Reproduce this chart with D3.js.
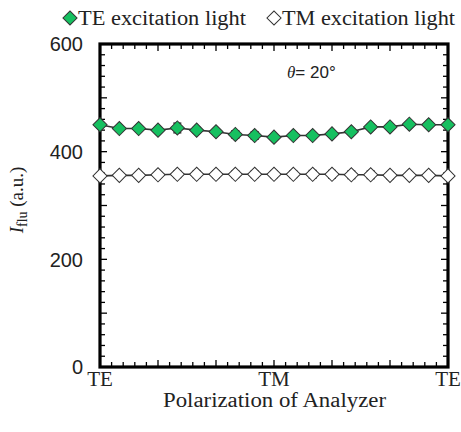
<!DOCTYPE html>
<html>
<head>
<meta charset="utf-8">
<script src="https://cdn.jsdelivr.net/npm/d3@7"></script>
<style>
  body { margin: 0; background: #fff; }
  svg { display: block; }
</style>
</head>
<body>
<div id="chart"></div>
<script>
// analyzer angle (deg), TE -> TM -> TE
const angles = [0, 10, 20, 30, 40, 50, 60, 70, 80, 90, 100, 110, 120, 130, 140, 150, 160, 170, 180];
const teValues = [450, 443, 443, 440, 444, 440, 437, 432, 430, 427, 430, 430, 433, 437, 446, 446, 451, 450, 450];
const teErrors = [3, 3, 3, 3, 9, 5, 4, 7, 7, 4, 4, 4, 4, 4, 4, 4, 3, 3, 3];
const tmValues = [355, 356, 356, 357, 358, 358, 358, 358, 358, 358, 358, 358, 358, 357, 357, 356, 356, 356, 355];
const tmErrors = [3, 3, 3, 4, 6, 6, 6, 6, 6, 6, 6, 7, 7, 7, 7, 6, 5, 5, 3];
const xTickLabels = ['TE', 'TM', 'TE'];
const yTickValues = [0, 200, 400, 600];
const seriesNames = ['TE excitation light', 'TM excitation light'];

const W = 461, H = 432;
const margin = { top: 44, right: 13, bottom: 65, left: 100 };
const iw = W - margin.left - margin.right;
const ih = H - margin.top - margin.bottom;

const serif = '"Liberation Serif", "DejaVu Serif", serif';
const sans = '"Liberation Sans", Arial, sans-serif';

const svg = d3.select('#chart').append('svg')
  .attr('width', W).attr('height', H);

const g = svg.append('g')
  .attr('transform', `translate(${margin.left},${margin.top})`);

const x = d3.scaleLinear().domain([0, 180]).range([0, iw]);
const y = d3.scaleLinear().domain([0, 600]).range([ih, 0]);

// minor ticks, inward, on all four sides
const xMinor = d3.range(0, 180.01, 6);
const yMinor = d3.range(0, 600.01, 20);

const ticks = g.append('g').attr('stroke', '#000').attr('stroke-width', 1.3);
xMinor.forEach((v, i) => {
  const len = i % 5 === 0 ? 7 : 5;
  ticks.append('line').attr('x1', x(v)).attr('x2', x(v)).attr('y1', ih).attr('y2', ih - len);
  ticks.append('line').attr('x1', x(v)).attr('x2', x(v)).attr('y1', 0).attr('y2', len);
});
yMinor.forEach((v, i) => {
  const len = i % 5 === 0 ? 7 : 5;
  ticks.append('line').attr('y1', y(v)).attr('y2', y(v)).attr('x1', 0).attr('x2', len);
  ticks.append('line').attr('y1', y(v)).attr('y2', y(v)).attr('x1', iw).attr('x2', iw - len);
});

// frame
g.append('rect')
  .attr('width', iw).attr('height', ih)
  .attr('fill', 'none').attr('stroke', '#000').attr('stroke-width', 3.2);

// y tick labels
g.selectAll('.ylab').data(yTickValues).enter().append('text')
  .attr('x', -17).attr('y', d => y(d)).attr('dy', '0.36em')
  .attr('text-anchor', 'end')
  .style('font-family', sans).style('font-size', '20px').attr('fill', '#222')
  .text(d => d);

// x tick labels
g.selectAll('.xlab').data(xTickLabels).enter().append('text')
  .attr('x', (d, i) => x(i * 90)).attr('y', ih + 19)
  .attr('text-anchor', 'middle')
  .style('font-family', serif).style('font-size', '21px').attr('fill', '#222')
  .text(d => d);

// axis titles
g.append('text')
  .attr('x', iw / 2 - 111).attr('y', ih + 40)
  .attr('textLength', 223).attr('lengthAdjust', 'spacingAndGlyphs')
  .style('font-family', serif).style('font-size', '20px').attr('fill', '#222')
  .text('Polarization of Analyzer');

const yt = svg.append('text')
  .attr('transform', 'translate(23,200) rotate(-90)')
  .attr('text-anchor', 'middle')
  .style('font-family', serif).style('font-size', '19px').attr('fill', '#222');
yt.append('tspan').style('font-style', 'italic').text('I');
yt.append('tspan').attr('dy', 4).style('font-size', '14px').text('flu');
yt.append('tspan').attr('dy', -4).text(' (a.u.)');

// theta annotation
const th = g.append('text')
  .attr('x', 187).attr('y', 34)
  .style('font-size', '17px').attr('fill', '#222');
th.append('tspan').style('font-family', serif).style('font-style', 'italic').text('θ');
th.append('tspan').style('font-family', sans).text('= 20°');

// square rotated 45 deg, ~14px across
const diamond = d3.symbol().type(d3.symbolSquare).size(100);
const series = [
  { values: tmValues, errors: tmErrors, fill: '#ffffff' },
  { values: teValues, errors: teErrors, fill: '#16c060' }
];

series.forEach(s => {
  const pts = angles.map((a, i) => ({ a, v: s.values[i], e: s.errors[i] }));
  const line = d3.line().x(d => x(d.a)).y(d => y(d.v));
  g.append('path').datum(pts)
    .attr('d', line).attr('fill', 'none')
    .attr('stroke', '#333').attr('stroke-width', 1.6);

  const eb = g.append('g').attr('stroke', '#222').attr('stroke-width', 1.4);
  pts.forEach(d => {
    eb.append('line').attr('x1', x(d.a)).attr('x2', x(d.a))
      .attr('y1', y(d.v - d.e)).attr('y2', y(d.v + d.e));
    [d.v - d.e, d.v + d.e].forEach(c => {
      eb.append('line').attr('x1', x(d.a) - 4).attr('x2', x(d.a) + 4)
        .attr('y1', y(c)).attr('y2', y(c));
    });
  });

  g.selectAll(null).data(pts).enter().append('path')
    .attr('d', diamond)
    .attr('transform', d => `translate(${x(d.a)},${y(d.v)}) rotate(45)`)
    .attr('fill', s.fill).attr('stroke', '#333').attr('stroke-width', 1);
});

// legend
const legend = svg.append('g');
const legX = [70, 274];
const legLen = [168, 173];
seriesNames.forEach((name, i) => {
  legend.append('path')
    .attr('d', diamond())
    .attr('transform', `translate(${legX[i]},18) rotate(45)`)
    .attr('fill', i === 0 ? '#16c060' : '#fff')
    .attr('stroke', '#333').attr('stroke-width', 1);
  legend.append('text')
    .attr('x', legX[i] + 8).attr('y', 25)
    .attr('textLength', legLen[i]).attr('lengthAdjust', 'spacingAndGlyphs')
    .style('font-family', serif).style('font-size', '20px').attr('fill', '#222')
    .text(name);
});
</script>
</body>
</html>
